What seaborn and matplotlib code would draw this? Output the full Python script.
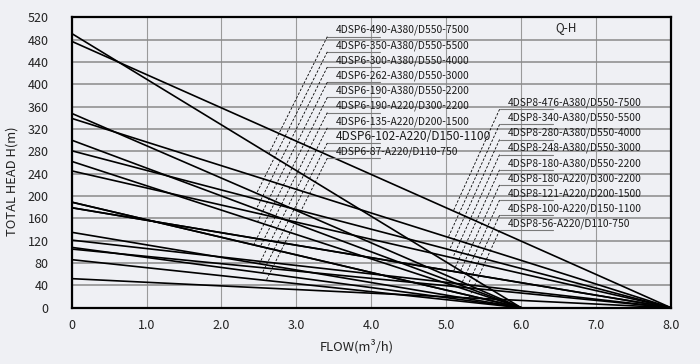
import matplotlib
matplotlib.use('Agg')
import matplotlib.pyplot as plt
import numpy as np
import pandas as pd
import seaborn as sns

# pump curves: shut-off head at Q=0, falling straight to 0 at max flow
dsp6_models = ['4DSP6-490-A380/D550-7500', '4DSP6-350-A380/D550-5500',
               '4DSP6-300-A380/D550-4000', '4DSP6-262-A380/D550-3000',
               '4DSP6-190-A380/D550-2200', '4DSP6-190-A220/D300-2200',
               '4DSP6-135-A220/D200-1500', '4DSP6-102-A220/D150-1100',
               '4DSP6-87-A220/D110-750']
dsp6_heads = [491, 348, 300, 262, 189, 189, 135, 108, 86]
dsp6_max_flow = 6.0

dsp8_models = ['4DSP8-476-A380/D550-7500', '4DSP8-340-A380/D550-5500',
               '4DSP8-280-A380/D550-4000', '4DSP8-248-A380/D550-3000',
               '4DSP8-180-A380/D550-2200', '4DSP8-180-A220/D300-2200',
               '4DSP8-121-A220/D200-1500', '4DSP8-100-A220/D150-1100',
               '4DSP8-56-A220/D110-750']
dsp8_heads = [477, 339, 281, 245, 179, 179, 121, 105, 52]
dsp8_max_flow = 8.0

x_ticks = [0, 1, 2, 3, 4, 5, 6, 7, 8]
x_tick_labels = ['0', '1.0', '2.0', '3.0', '4.0', '5.0', '6.0', '7.0', '8.0']
y_ticks = list(range(0, 521, 40))

rows = []
for models, heads, qmax in [(dsp6_models, dsp6_heads, dsp6_max_flow),
                            (dsp8_models, dsp8_heads, dsp8_max_flow)]:
    for m, h in zip(models, heads):
        rows.append({'model': m, 'flow': 0.0, 'head': h})
        rows.append({'model': m, 'flow': qmax, 'head': 0.0})
df = pd.DataFrame(rows)

sns.set_style('white')
plt.rcParams['font.family'] = ['Noto Sans CJK SC', 'DejaVu Sans']

bg = '#eff0f4'
fig = plt.figure(figsize=(7, 3.64), dpi=100, facecolor=bg)
ax = fig.add_axes([0.1024, 0.1547, 0.856, 0.7978])
ax.set_facecolor(bg)

sns.lineplot(data=df, x='flow', y='head', units='model', estimator=None,
             color='black', lw=1.2, ax=ax, legend=False)

ax.set_xlim(0, 8)
ax.set_ylim(0, 520)
ax.set_xticks(x_ticks)
ax.set_xticklabels(x_tick_labels)
ax.set_yticks(y_ticks)
ax.grid(axis='y', color='#8a8a8a', lw=1.1)
ax.grid(axis='x', color='#9a9a9a', lw=0.8)
ax.set_axisbelow(True)
ax.tick_params(axis='y', length=11.5, width=1.1, color='#8a8a8a', pad=5,
               labelsize=9, labelcolor='#222222')
ax.tick_params(axis='x', length=0, pad=8.5, labelsize=9, labelcolor='#222222')
for s in ax.spines.values():
    s.set_color('black')
    s.set_linewidth(1.6)

ax.set_xlabel('')
ax.set_ylabel('')
fig.text(357 / 700, 1 - 346 / 364, 'FLOW(m³/h)', fontsize=9.3, color='#222222',
         ha='center', va='center')
fig.text(12 / 700, 1 - 181 / 364, 'TOTAL HEAD H(m)', fontsize=9.3, color='#222222',
         ha='center', va='center', rotation=90)

ax.text(6.6, 501, 'Q-H', fontsize=8.5, color='#222222', ha='center', va='center')

# labels with underline + dashed leader to their curve
px_q = ax.bbox.width / 8.0
px_h = ax.bbox.height / 520.0


def leaders(models, heads, qmax, q0, h0, step, slope):
    for i, (m, h) in enumerate(zip(models, heads)):
        hy = h0 - i * step
        fs = 8.6 if '-102-' in m else 7.4
        ax.text(q0, hy, m, fontsize=fs, color='#1a1a1a', ha='left', va='center')
        uy = hy - 6.5 / px_h
        ux0 = q0 - 8 / px_q
        ux1 = q0 + 45 / px_q
        ax.plot([ux0, ux1], [uy, uy], color='#7a7a7a', lw=0.8)
        # where the leader going down-left meets the curve
        a = slope / px_h
        b = h / (qmax * px_q)
        t = (uy - h + h * ux0 / qmax) / (a + b)
        ex = ux0 - t / px_q
        ey = uy - a * t
        ax.plot([ux0, ex], [uy, ey], color='black', lw=0.6, ls=(0, (3, 2)))


leaders(dsp6_models, dsp6_heads, dsp6_max_flow, 3.52, 497, 27.2, 2.0)
leaders(dsp8_models, dsp8_heads, dsp8_max_flow, 5.82, 367, 27.1, 2.2)

fig.savefig('out.png', dpi=100, facecolor=bg)
